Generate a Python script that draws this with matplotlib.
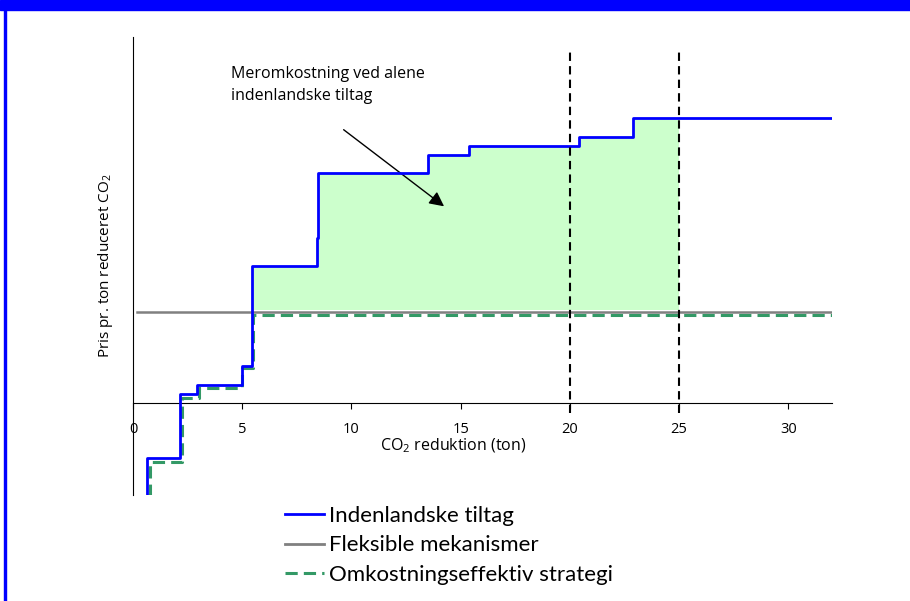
import matplotlib
matplotlib.use('Agg')
import matplotlib.pyplot as plt
from matplotlib.lines import Line2D
from matplotlib.patches import Rectangle

plt.rcParams['font.family'] = ['Open Sans', 'DejaVu Sans']
plt.rcParams['mathtext.default'] = 'regular'

# step curves (x = CO2 reduction in ton, y = price, arbitrary units)
dom_x = [0.63, 0.63, 2.15, 2.92, 4.98, 5.43, 8.40, 8.49, 13.5, 15.4, 20.4, 22.9, 32.0]
dom_y = [-130, -55, 9, 18, 37, 137, 165, 230, 248, 257, 266, 285, 285]

eff_x = [0.77, 0.77, 2.24, 3.0, 5.0, 5.48, 32.0]
eff_y = [-130, -59, 5, 15, 35, 88, 88]

flex_price = 91
flex_start = 0.2

# extra cost area (domestic curve above flexible price, up to target 25)
fill_x = [5.43, 8.40, 8.49, 13.5, 15.4, 20.4, 22.9, 25.0]
fill_y = [137, 165, 230, 248, 257, 266, 285, 285]

targets = [20, 25]
xticks = [0, 5, 10, 15, 20, 25, 30]

fig = plt.figure(figsize=(9.1, 6.01), dpi=100)
ax = fig.add_axes([0.1462, 0.1764, 0.7681, 0.7620])

ax.fill_between(fill_x, flex_price + 2, fill_y, step='post', color='#ccffcc', lw=0, zorder=1)

ax.plot([flex_start, 32], [flex_price, flex_price], color='#808080', lw=1.8, zorder=2)
ax.plot(eff_x, eff_y, drawstyle='steps-post', color='#339966', lw=2.2,
        dashes=(4, 2), zorder=3)
ax.plot(dom_x, dom_y, drawstyle='steps-post', color='#0000ff', lw=2.0, zorder=4)

for t in targets:
    ax.plot([t, t], [-10, 353], color='black', lw=1.5, ls=(0, (4, 2.5)), zorder=5,
            clip_on=False)

ax.annotate('', xy=(14.34, 195), xytext=(9.54, 275),
            arrowprops=dict(arrowstyle='-|>', mutation_scale=22, lw=1.0, color='black'))
ax.text(4.47, 337, 'Meromkostning ved alene\nindenlandske tiltag', fontsize=11.5,
        va='top', ha='left', linespacing=1.5)

ax.set_xlim(0, 32)
ax.set_ylim(-92, 366)
ax.spines['top'].set_visible(False)
ax.spines['right'].set_visible(False)
ax.spines['bottom'].set_position(('data', 0))
ax.set_xticks(xticks)
ax.set_xticklabels([str(v) for v in xticks], fontsize=10.5)
ax.tick_params(axis='x', direction='out', length=4, pad=10)
ax.set_yticks([])
ax.set_xlabel('CO$_2$ reduktion (ton)', fontsize=11.5)
ax.xaxis.set_label_coords(0.458, 0.127)
ax.set_ylabel('Pris pr. ton reduceret CO$_2$', fontsize=11, labelpad=13)

handles = [Line2D([], [], color='#0000ff', lw=2),
           Line2D([], [], color='#808080', lw=2),
           Line2D([], [], color='#339966', lw=2.2, dashes=(4, 2))]
labels = ['Indenlandske tiltag', 'Fleksible mekanismer', 'Omkostningseffektiv strategi']
fig.legend(handles, labels, loc='upper left', bbox_to_anchor=(0.313, 0.158),
           frameon=False, borderpad=0, borderaxespad=0, handlelength=1.75,
           handletextpad=0.25, labelspacing=0.42,
           prop={'family': ['Lato', 'DejaVu Sans'], 'size': 16})

# blue frame of the slide
fig.patches.append(Rectangle((0, 1 - 10 / 601), 1, 10 / 601, transform=fig.transFigure,
                             color='#0000ff', zorder=0))
fig.patches.append(Rectangle((4 / 910, 0), 2 / 910, 1, transform=fig.transFigure,
                             color='#0000ff', zorder=0))

fig.savefig('out.png', dpi=100)
